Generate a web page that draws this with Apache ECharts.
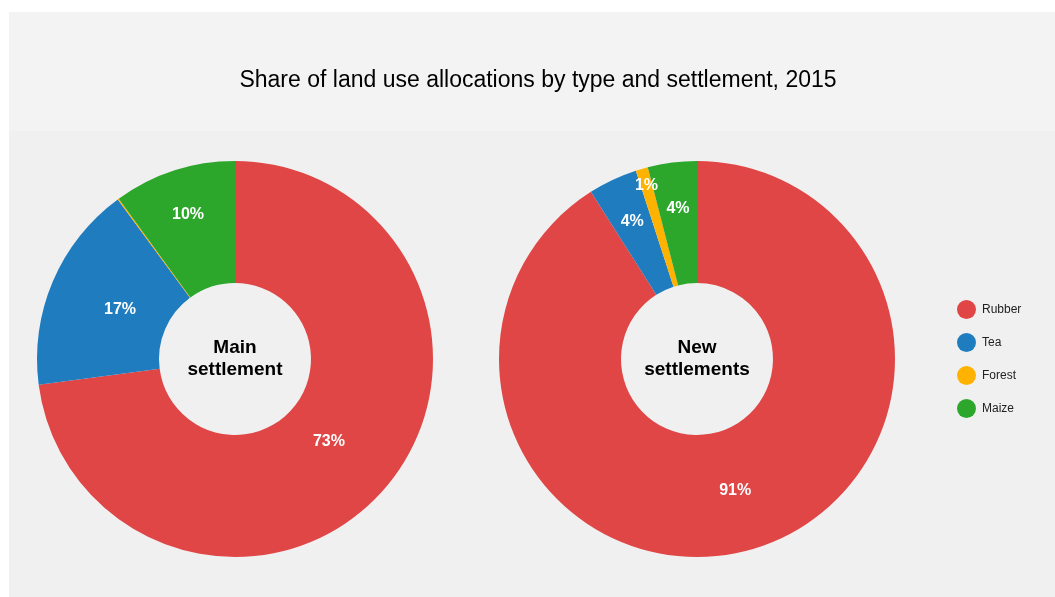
<!DOCTYPE html>
<html>
<head>
<meta charset="utf-8">
<title>Share of land use allocations by type and settlement, 2015</title>
<script src="https://cdn.jsdelivr.net/npm/echarts@6/dist/echarts.min.js"></script>
<style>
  html, body { margin: 0; padding: 0; background: #ffffff; }
  #chart { width: 1055px; height: 597px; }
</style>
</head>
<body>
<div id="chart"></div>
<script>
// Land use categories, in drawing order (clockwise from 12 o'clock)
const categories = ['Rubber', 'Tea', 'Forest', 'Maize'];
const colors = ['#e04646', '#1f7cbf', '#ffb300', '#2ca72c'];

// Share of allocations (%) per settlement
const mainSettlement = [73, 17, 0.1, 10];
const newSettlements = [91, 4, 1, 4];

const chartTitle = 'Share of land use allocations by type and settlement, 2015';
const mainLabel = 'Main\nsettlement';
const newLabel = 'New\nsettlements';

const font = '"Liberation Sans", Arial, Helvetica, sans-serif';
const CY = 359;

function toData(values) {
  return categories.map((name, i) => ({ name, value: values[i] }));
}

// Narrow slices get their label pushed out toward the rim, where the slice is widest
function radialLabels(cx, values) {
  return params => {
    const v = values[params.dataIndex];
    const target = v <= 1 ? 181 : v < 15 ? 152 : v < 85 ? 125 : 137;
    const r = params.labelRect;
    const dx = r.x + r.width / 2 - cx;
    const dy = r.y + r.height / 2 - CY;
    const d = Math.hypot(dx, dy) || 1;
    const k = target / d - 1;
    return { dx: dx * k, dy: dy * k, hideOverlap: false };
  };
}

function donut(name, values, cx) {
  return {
    name,
    type: 'pie',
    center: [cx, CY],
    radius: [76, 198],
    startAngle: 90,
    clockwise: true,
    avoidLabelOverlap: false,
    minShowLabelAngle: 0,
    silent: true,
    emphasis: { disabled: true },
    itemStyle: { borderWidth: 0 },
    labelLayout: radialLabels(cx, values),
    label: {
      show: true,
      position: 'inside',
      color: '#ffffff',
      fontFamily: font,
      fontWeight: 'bold',
      fontSize: 16,
      overflow: 'none',
      formatter: p => (p.value >= 0.5 ? p.value + '%' : '')
    },
    labelLine: { show: false },
    data: toData(values)
  };
}

const chart = echarts.init(document.getElementById('chart'), null, { renderer: 'canvas' });

chart.setOption({
  animation: false,
  color: colors,
  graphic: [
    { type: 'rect', z: -10, shape: { x: 9, y: 12, width: 1046, height: 119 }, style: { fill: '#f3f3f3' } },
    { type: 'rect', z: -10, shape: { x: 9, y: 131, width: 1046, height: 466 }, style: { fill: '#f0f0f0' } },
    {
      type: 'text', z: 10, x: 538, y: 81,
      style: { text: chartTitle, fill: '#000000', font: '23px ' + font, align: 'center', verticalAlign: 'middle' }
    },
    {
      type: 'text', z: 10, x: 235, y: 359,
      style: { text: mainLabel, fill: '#000000', font: 'bold 19px ' + font, align: 'center', verticalAlign: 'middle', lineHeight: 22 }
    },
    {
      type: 'text', z: 10, x: 697, y: 359,
      style: { text: newLabel, fill: '#000000', font: 'bold 19px ' + font, align: 'center', verticalAlign: 'middle', lineHeight: 22 }
    }
  ],
  legend: {
    orient: 'vertical',
    left: 952,
    top: 295,
    icon: 'circle',
    itemWidth: 19,
    itemHeight: 19,
    itemGap: 14,
    selectedMode: false,
    textStyle: { fontFamily: font, fontSize: 12, color: '#222222', padding: [0, 0, 0, 1] },
    data: categories
  },
  series: [
    donut('Main settlement', mainSettlement, 235),
    donut('New settlements', newSettlements, 697)
  ]
});
</script>
</body>
</html>
